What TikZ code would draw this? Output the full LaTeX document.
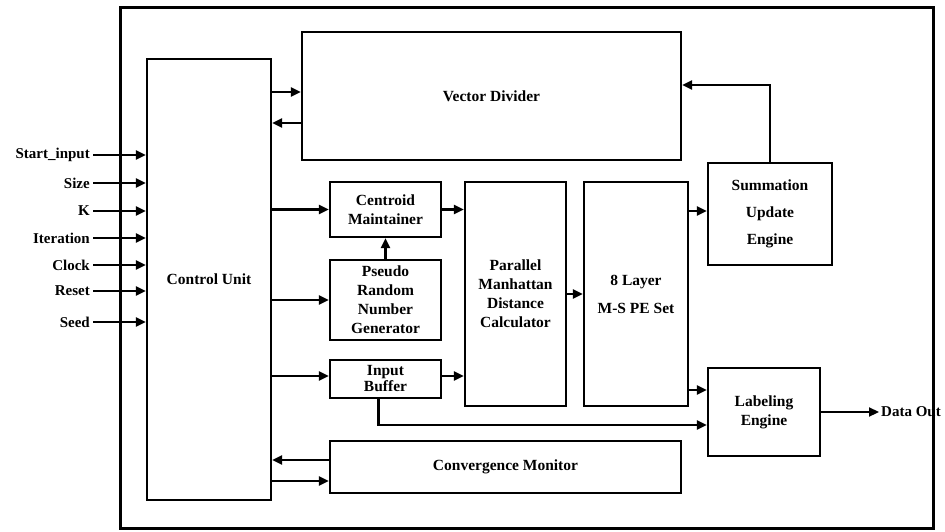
\documentclass[tikz,border=0pt]{standalone}
\usepackage{fontspec}
\setmainfont{Liberation Serif}
\usetikzlibrary{arrows.meta,positioning}
\tikzset{
  >={Triangle[length=10pt,width=9pt]},
  blk/.style={draw,line width=2.2pt,align=center,inner sep=0pt,
    font=\fontsize{15.5}{19}\selectfont\bfseries},
  flow/.style={->,line width=2.2pt},
  pinlabel/.style={anchor=east,inner sep=0pt,font=\fontsize{15}{19}\selectfont\bfseries},
}

\begin{document}
\begin{tikzpicture}[x=1pt,y=-1pt]
  \useasboundingbox (0,0) rectangle (945,532);
  % outer frame
  \draw[line width=3pt] (120,8) rectangle (933,528);
  % blocks
  \node[blk,minimum width=124pt,minimum height=441pt] (cu) at (209,279.5) {Control Unit};
  \node[blk,minimum width=379pt,minimum height=128pt] (vd) at (491.5,96) {Vector Divider};
  \node[blk,minimum width=111pt,minimum height=55pt] (cent) at (385.5,209.5) {Centroid\\Maintainer};
  \node[blk,minimum width=111pt,minimum height=80pt] (prng) at (385.5,300) {Pseudo\\Random\\Number\\Generator};
  \node[blk,minimum width=111pt,minimum height=38pt,font=\fontsize{15.5}{16}\selectfont\bfseries] (ib) at (385.5,379) {Input\\Buffer};
  \node[blk,minimum width=101pt,minimum height=224pt] (pmd) at (515.5,294) {Parallel\\Manhattan\\Distance\\Calculator};
  \node[blk,minimum width=104pt,minimum height=224pt] (pe) at (636,294) {8 Layer\\[9pt]M-S PE Set};
  \node[blk,minimum width=124pt,minimum height=102pt] (sue) at (770,214) {Summation\\[8pt]Update\\[8pt]Engine};
  \node[blk,minimum width=112pt,minimum height=88pt] (le) at (764,412) {Labeling\\Engine};
  \node[blk,minimum width=351pt,minimum height=52pt] (conv) at (505.5,467) {Convergence Monitor};
  \node[pinlabel,anchor=west] (dout) at (881,412) {Data Out};
  % inputs to control unit
  \foreach \lbl/\y [count=\i] in {Start\_input/155,Size/183,K/211,Iteration/238,Clock/265,Reset/291,Seed/322}{
    \node[pinlabel] (in\i) at (90,\y) {\lbl};
    \draw[flow] ([xshift=3pt]in\i.east) -- (in\i.east -| cu.west);
  }
  % control unit <-> blocks
  \draw[flow] ([yshift=4pt]vd.west -| cu.east) -- ([yshift=4pt]vd.west);
  \draw[flow] ([yshift=-27pt]vd.west) -- ([yshift=-27pt]vd.west -| cu.east);
  \draw[flow] (cent.west -| cu.east) -- (cent.west);
  \draw[flow] (prng.west -| cu.east) -- (prng.west);
  \draw[flow] ([yshift=3pt]ib.west -| cu.east) -- ([yshift=3pt]ib.west);
  \draw[flow] ([yshift=7pt]conv.west) -- ([yshift=7pt]conv.west -| cu.east);
  \draw[flow] ([yshift=-14pt]conv.west -| cu.east) -- ([yshift=-14pt]conv.west);
  % datapath
  \draw[flow] (prng.north) -- (cent.south);
  \draw[flow] (cent.east) -- (cent.east -| pmd.west);
  \draw[flow] ([yshift=3pt]ib.east) -- ([yshift=3pt]ib.east -| pmd.west);
  \draw[flow] ([xshift=-7pt]ib.south) |- ([yshift=-13pt]le.west);
  \draw[flow] (pmd.east) -- (pe.west);
  \draw[flow] ([yshift=3pt]sue.west -| pe.east) -- ([yshift=3pt]sue.west);
  \draw[flow] ([yshift=22pt]le.west -| pe.east) -- ([yshift=22pt]le.west);
  \draw[flow] (sue.north) |- ([yshift=11pt]vd.east);
  \draw[flow] (le.east) -- ([xshift=-2pt]dout.west);
\end{tikzpicture}
\end{document}
